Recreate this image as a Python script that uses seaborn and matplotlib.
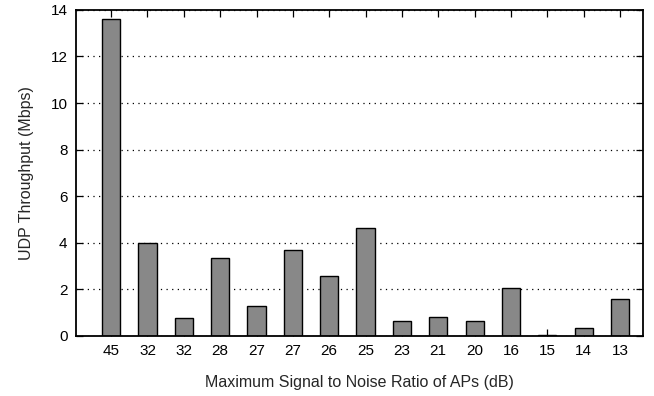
import numpy as np
import pandas as pd
import seaborn as sns
from matplotlib import pyplot as plt

snr_labels = ['45', '32', '32', '28', '27', '27', '26', '25', '23', '21', '20', '16', '15', '14', '13']
throughput = [13.6, 3.97, 0.75, 3.35, 1.3, 3.7, 2.57, 4.62, 0.65, 0.8, 0.62, 2.05, 0.05, 0.35, 1.57]

sns.set_style('ticks')
plt.rcParams['font.family'] = ['Liberation Sans', 'DejaVu Sans']

df = pd.DataFrame({'pos': np.arange(len(throughput)), 'mbps': throughput})

fig = plt.figure(figsize=(6.54, 3.96), dpi=100)
ax = fig.add_axes([0.116, 0.152, 0.867, 0.823])
ax.set_axisbelow(True)
sns.barplot(data=df, x='pos', y='mbps', color='#888888', saturation=1,
            edgecolor='black', linewidth=1, width=0.5, ax=ax)

ax.set_xlim(-0.97, 14.63)
ax.set_ylim(0, 14)
ax.set_yticks(range(0, 15, 2))
ax.set_xticks(range(len(snr_labels)))
ax.set_xticklabels(snr_labels)
ax.yaxis.grid(True, color='black', linestyle=(0, (1, 3.5)), linewidth=0.9)
ax.tick_params(direction='in', top=True, right=True, length=5, width=0.9,
               labelsize=11, colors='black', pad=6)
for s in ax.spines.values():
    s.set_visible(True)
    s.set_linewidth(1.3)
    s.set_color('black')
ax.set_xlabel('Maximum Signal to Noise Ratio of APs (dB)', fontsize=11.5, labelpad=12)
ax.set_ylabel('UDP Throughput (Mbps)', fontsize=11.5, labelpad=12)

plt.savefig('out.png', dpi=100)
